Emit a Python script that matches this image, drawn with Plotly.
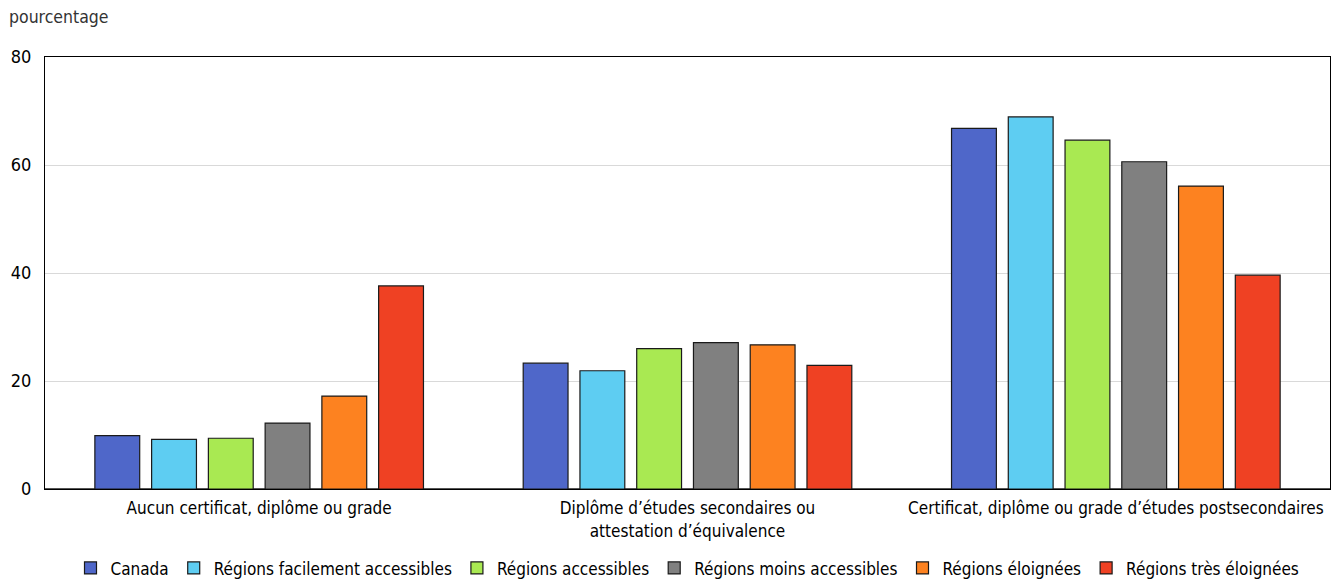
import plotly.graph_objects as go

categories = [
    "Aucun certificat, diplôme ou grade",
    "Diplôme d’études secondaires ou<br>attestation d’équivalence",
    "Certificat, diplôme ou grade d’études postsecondaires",
]

series_names = [
    "Canada",
    "Régions facilement accessibles",
    "Régions accessibles",
    "Régions moins accessibles",
    "Régions éloignées",
    "Régions très éloignées",
]

canada = [9.9, 23.3, 66.8]
facilement_accessibles = [9.2, 21.9, 68.9]
accessibles = [9.4, 26.0, 64.6]
moins_accessibles = [12.2, 27.1, 60.6]
eloignees = [17.2, 26.7, 56.1]
tres_eloignees = [37.6, 22.9, 39.6]

series_values = [canada, facilement_accessibles, accessibles,
                 moins_accessibles, eloignees, tres_eloignees]
colors = ["#4f67c9", "#5ecdf2", "#a9e952", "#808080", "#fd8220", "#ef4123"]

FONT = "DejaVu Sans Condensed, Liberation Sans, sans-serif"

fig = go.Figure()
for name, vals, col in zip(series_names, series_values, colors):
    fig.add_trace(go.Bar(
        x=categories, y=vals, name=name,
        marker=dict(color=col, line=dict(color="#1a1a1a", width=1.2)),
    ))

fig.update_layout(
    width=1340, height=579,
    margin=dict(l=45, r=10, t=57, b=90, autoexpand=False),
    paper_bgcolor="white", plot_bgcolor="white",
    barmode="group", bargap=0.205, bargroupgap=0.21,
    font=dict(family=FONT, size=17, color="#000000"),
    showlegend=True,
    legend=dict(orientation="h", x=0.5, xanchor="center", y=-0.142, yanchor="top",
                font=dict(family=FONT, size=17), itemwidth=30,
                tracegroupgap=0, traceorder="normal"),
    xaxis=dict(showline=True, linecolor="#000000", linewidth=1, mirror=True,
               ticks="", ticklabelstandoff=4, tickfont=dict(family=FONT, size=17)),
    yaxis=dict(range=[0, 80], dtick=20, showgrid=True, gridcolor="#d9d9d9",
               gridwidth=1, showline=True, linecolor="#000000", linewidth=1,
               mirror=True, ticks="", zeroline=True, zerolinecolor="#555555",
               zerolinewidth=1.5, ticklabelstandoff=9,
               tickfont=dict(family=FONT, size=18)),
    annotations=[dict(text="pourcentage", xref="paper", yref="paper",
                      x=0, y=1, xshift=-38, yshift=28, xanchor="left",
                      yanchor="bottom", showarrow=False,
                      font=dict(family=FONT, size=17.5, color="#333333"))],
)

fig.write_html("out.html")
